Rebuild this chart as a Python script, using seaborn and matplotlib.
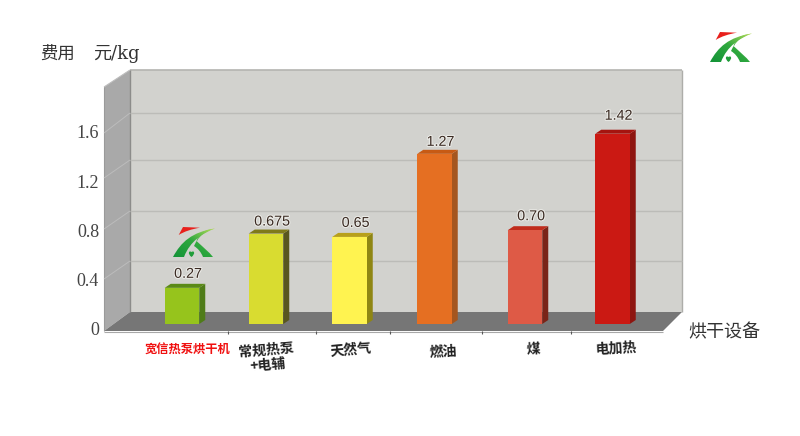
import matplotlib
matplotlib.use('Agg')
from matplotlib import pyplot as plt
from matplotlib.colors import LinearSegmentedColormap
from matplotlib.patches import Polygon, PathPatch
from matplotlib.path import Path
from matplotlib.transforms import Affine2D
import matplotlib.patheffects as pe
import numpy as np
import pandas as pd
import seaborn as sns

categories = ['宽信热泵烘干机', '常规热泵\n+电辅', '天然气', '燃油', '煤', '电加热']
costs = [0.27, 0.675, 0.65, 1.27, 0.70, 1.42]
value_labels = ['0.27', '0.675', '0.65', '1.27', '0.70', '1.42']
y_ticks = [0, 0.4, 0.8, 1.2, 1.6]
y_tick_labels = ['0', '0.4', '0.8', '1.2', '1.6']

# layout, in reference pixels
bar_centres = [182, 266, 349.5, 434.5, 525, 612.5]
front_colors = ['#96c41c', '#d9dc30', '#fff350', '#e56f22', '#de5a46', '#cb1913']
side_colors = ['#4f7c18', '#58561f', '#8f8613', '#a5561f', '#7a2418', '#8e1510']
top_colors = ['#5a8a16', '#7f7a1a', '#b8a01a', '#c75a14', '#c02c1c', '#a5140f']
label_pads = [14, 12, 14, 12, 14, 18]
wall_grid_px = [261, 211, 160, 113]
wall_grid_front_px = [279, 229, 178, 133]
floor_ticks_px = [228, 316, 390, 482, 571]
label_spots = [(187, 350, 0), (267, 358, 5), (351, 350, 5), (443, 352, 3), (533, 350, 3), (616, 349, 3)]

W, H = 800, 436
BASE_PX = 324
PX_PER_UNIT = 134
DEPTH_X, DEPTH_Y = 6, 4

cjk = ['Noto Sans CJK SC', 'DejaVu Sans']
plt.rcParams['font.family'] = cjk

fig = plt.figure(figsize=(W / 100, H / 100), dpi=100, facecolor='white')
ax = fig.add_axes([0, 0, 1, 1])

# y pixel positions (downwards) in figure pixels
pix = Affine2D().scale(1, -1).translate(0, H)
greens = LinearSegmentedColormap.from_list('logo', ['#139338', '#2fa83e', '#b9de5a'])


def wall(points, color, z=0.1):
    ax.add_patch(Polygon(points, closed=True, facecolor=color, edgecolor='none',
                         transform=pix, zorder=z))


def px_line(xs, ys, color, lw=1.0, z=0.2):
    ax.plot(xs, ys, color=color, lw=lw, transform=pix, zorder=z, solid_capstyle='butt')


def draw_logo(x0, y0):
    place = Affine2D().translate(x0, y0) + pix
    M, C, L = Path.MOVETO, Path.CURVE4, Path.LINETO
    red = Path([(5.7, 8), (10, 0), (27, 0.7), (19, 2), (11, 4.5), (5.7, 8)],
               [M, L, L, C, C, C])
    swoosh = Path([(0, 30), (8, 15), (19, 5), (42, 1.5), (30, 6), (17, 14), (11, 30), (0, 30)],
                  [M, C, C, C, C, C, C, L])
    thin = Path([(42, 1.5), (33, 4), (27, 8), (24, 14), (22.5, 13.5), (27, 6), (34, 3), (42, 1.5)],
                [M, C, C, C, C, C, C, L])
    leg = Path([(23.5, 14), (30, 20), (36, 25), (40, 30), (30, 30), (28, 25), (25, 21.5), (21, 19), (23.5, 14)],
               [M, C, C, C, L, C, C, C, L])
    heart = Path([(18.5, 30), (14.5, 27), (15.5, 23), (18.5, 25), (21.5, 23), (22.5, 27), (18.5, 30)],
                 [M, C, C, C, C, C, C])
    ax.add_patch(PathPatch(red, facecolor='#e8201c', edgecolor='none', transform=place, zorder=4))
    gradient = (np.linspace(0, 1, 60)[None, :] + np.linspace(1, 0, 40)[:, None]) / 2
    for path in [swoosh, thin, leg, heart]:
        shape = PathPatch(path, facecolor='none', edgecolor='none', transform=place, zorder=4)
        ax.add_patch(shape)
        im = ax.imshow(gradient, cmap=greens, vmin=0, vmax=1, extent=(0, 42, 30, 0), aspect='auto',
                       transform=place, zorder=4)
        im.set_clip_path(shape)


# room behind the bars
wall([(130, 70), (682, 70), (682, 312), (130, 312)], '#d2d2ce')
wall([(104, 87), (130, 70), (130, 312), (104, 331)], '#a9a9a9')
wall([(104, 331), (663, 331), (682, 312), (130, 312)], '#767676', z=0.15)
px_line([130, 682], [70, 70], '#b4b4b0', lw=1.2)
px_line([682, 682], [70, 312], '#adada9', lw=1.0)
px_line([130, 130], [70, 312], '#8c8c8a', lw=1.0)
px_line([104, 104], [87, 331], '#9a9a9a', lw=0.8)
px_line([104, 130], [87, 70], '#bdbdbd', lw=0.8)
px_line([104, 663], [331.5, 331.5], '#a8a8a8', lw=0.8)
for back, front in zip(wall_grid_px, wall_grid_front_px):
    px_line([130, 682], [back, back], '#bcbcb8', lw=1.0)
    px_line([104, 130], [front, back], '#bcbcbc', lw=0.7)
for x in floor_ticks_px:
    px_line([x, x], [331, 334], '#555555', lw=0.8)

df = pd.DataFrame({'category': categories, 'centre': bar_centres, 'cost': costs})
sns.barplot(data=df, x='centre', y='cost', hue='category', hue_order=categories,
            palette=front_colors, native_scale=True, dodge=False, legend=False,
            width=34.5 / 83.5, saturation=1, ax=ax, zorder=2)

dy = DEPTH_Y / PX_PER_UNIT
for container, side, top, text, pad in zip(ax.containers, side_colors, top_colors, value_labels, label_pads):
    bar = container[0]
    bar.set_edgecolor('none')
    x0, x1 = bar.get_x(), bar.get_x() + bar.get_width()
    h = bar.get_height()
    ax.add_patch(Polygon([(x1, 0), (x1 + DEPTH_X, dy), (x1 + DEPTH_X, h + dy), (x1, h)],
                         facecolor=side, edgecolor='none', zorder=1.9))
    ax.add_patch(Polygon([(x0, h), (x0 + DEPTH_X, h + dy), (x1 + DEPTH_X, h + dy), (x1, h)],
                         facecolor=top, edgecolor='none', zorder=1.9))
    ax.annotate(text, xy=((x0 + x1) / 2 + 6, h), xytext=(0, pad * 0.72), textcoords='offset points',
                ha='center', va='center', fontsize=10.3, family='Liberation Sans', color='#3a2a22',
                path_effects=[pe.withStroke(linewidth=1.5, foreground='#ecece8')], zorder=5)

draw_logo(173, 227)
draw_logo(710, 32)

ax.set_xlim(0, W)
ax.set_ylim(-(H - BASE_PX) / PX_PER_UNIT, BASE_PX / PX_PER_UNIT)
ax.axis('off')

# value axis sits on its own scale, the wall is not to scale with the bars
tick_ax = fig.add_axes([99 / W, 0, 1 / W, 1])
tick_ax.patch.set_alpha(0)
tick_ax.set_ylim(-(H - 328) / 122.5, 328 / 122.5)
tick_ax.set_xticks([])
tick_ax.set_yticks(y_ticks, y_tick_labels)
tick_ax.tick_params(axis='y', length=0, pad=0, labelsize=13, labelcolor='#444444')
for lab in tick_ax.get_yticklabels():
    lab.set_family('Liberation Serif')
for s in tick_ax.spines.values():
    s.set_visible(False)

for i, (name, (x, y, rot)) in enumerate(zip(categories, label_spots)):
    ax.text(x, y, name, transform=pix, ha='center', va='center', rotation=rot,
            fontsize=8.8 if i == 0 else 10, fontweight='bold',
            color='#f01010' if i == 0 else '#222222', linespacing=1.1, zorder=5)

ax.text(40, 54, '费用', transform=pix, ha='left', va='center', fontsize=12.5, color='#333333')
ax.text(93, 54, '元/kg', transform=pix, ha='left', va='center', fontsize=13, color='#333333',
        family=['DejaVu Serif', 'Noto Sans CJK SC'])
ax.text(724, 332, '烘干设备', transform=pix, ha='center', va='center', fontsize=13, color='#333333')

fig.savefig('out.png', dpi=100, facecolor='white')
